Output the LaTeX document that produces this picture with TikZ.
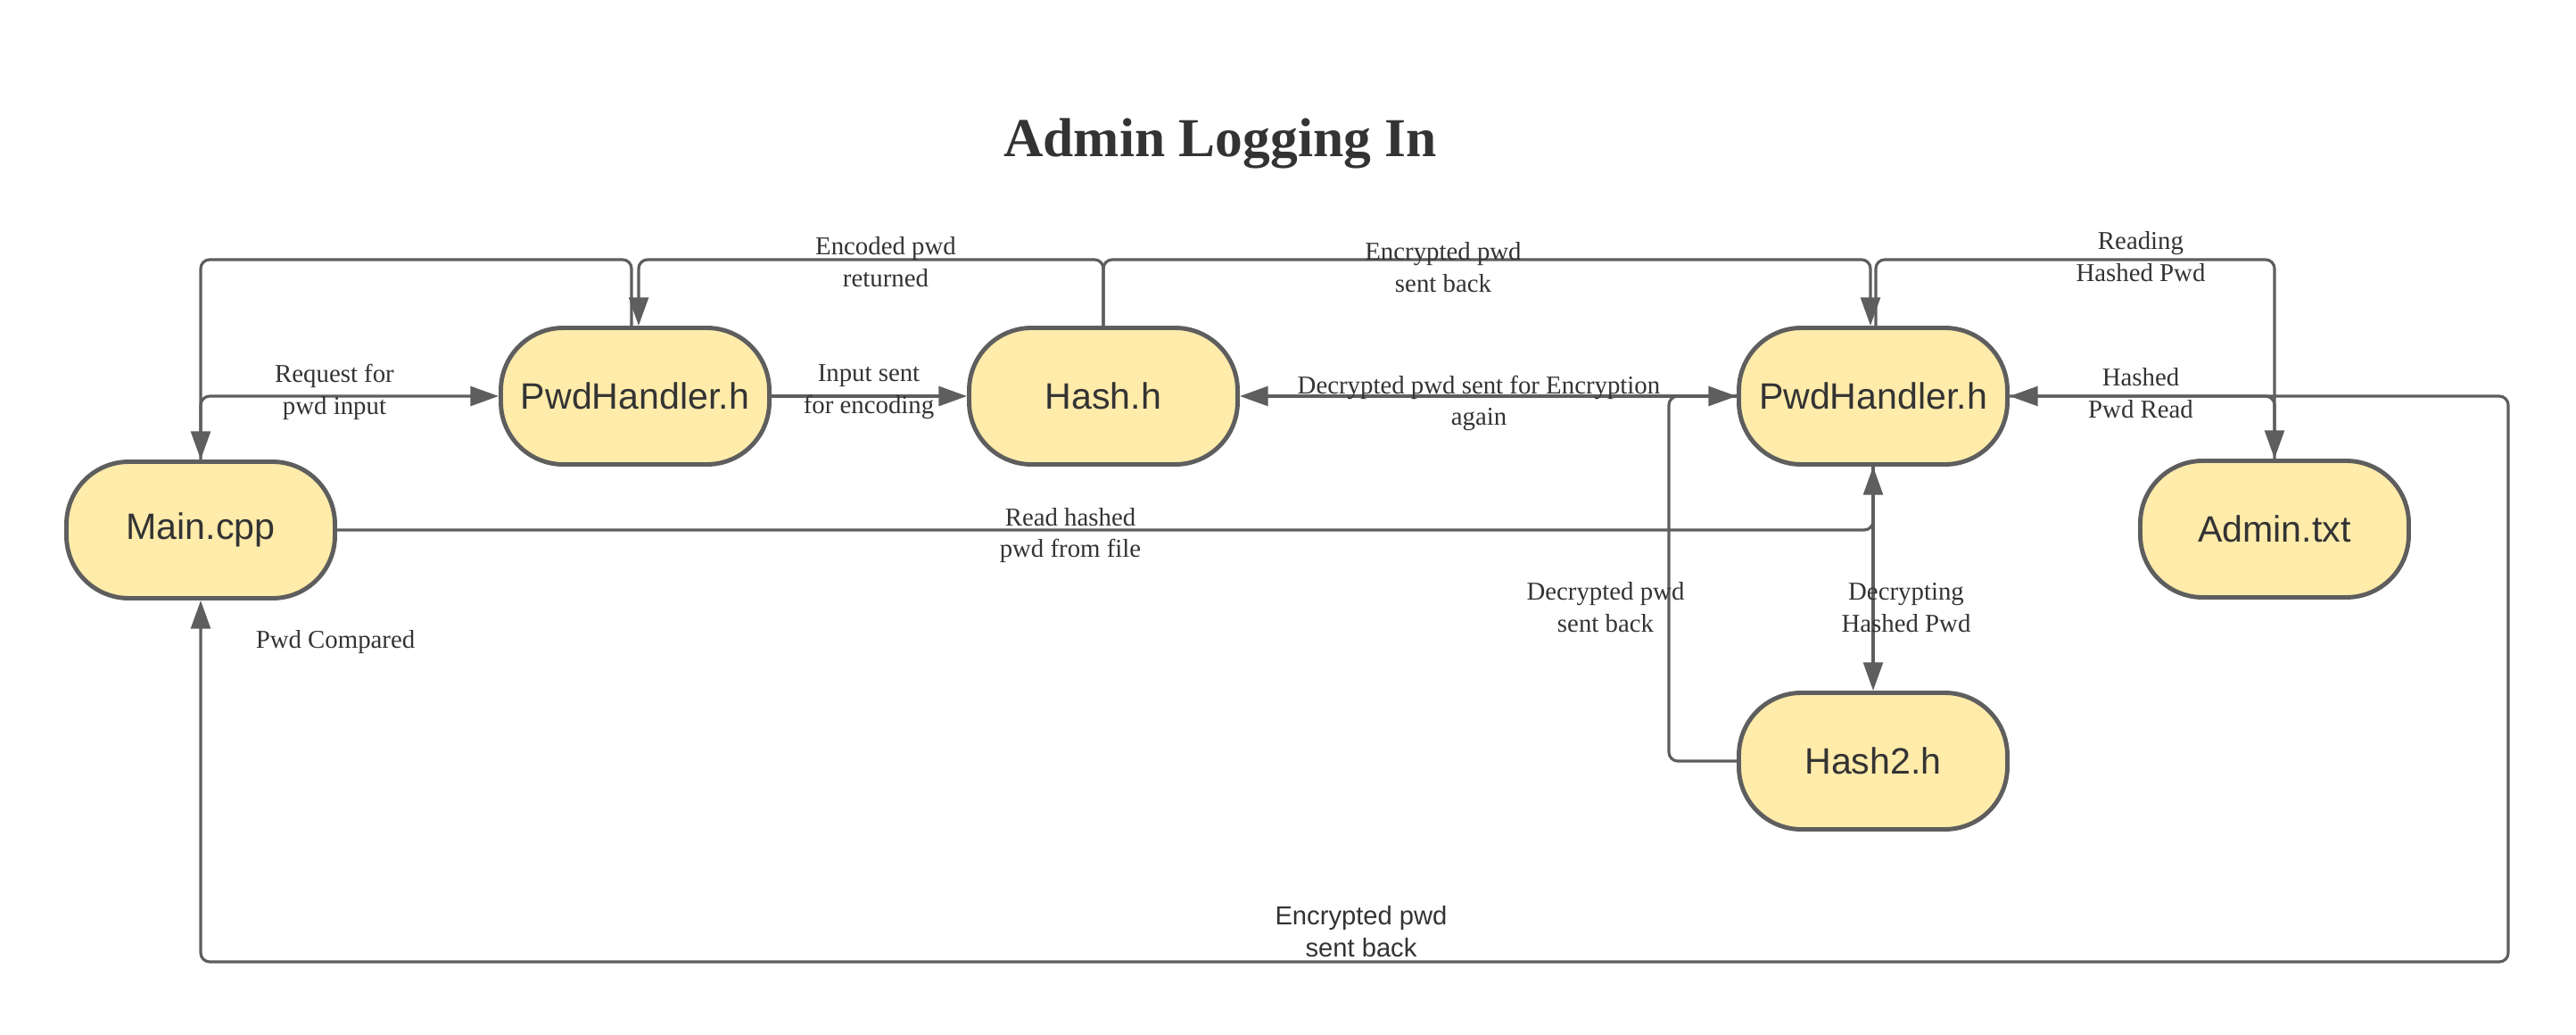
\documentclass[tikz,border=0pt]{standalone}
\usepackage{fontspec}
\setmainfont{Liberation Serif}
\setsansfont{Liberation Sans}
\usetikzlibrary{arrows.meta}
\definecolor{edgegray}{HTML}{5E5E5E}
\definecolor{boxfill}{HTML}{FFEBAA}
\definecolor{txtgray}{HTML}{333333}

\begin{document}
\begin{tikzpicture}[
    file/.style={draw=edgegray,fill=boxfill,line width=1.4pt,rounded corners=0.7cm,
      minimum width=3.01cm,minimum height=1.53cm,text=txtgray,
      font=\sffamily\fontsize{11.7}{14}\selectfont},
    flow/.style={edgegray,line width=0.9pt,rounded corners=1mm,
      -{Triangle[length=9pt,width=6.2pt]}},
    lbl/.style={align=center,text=txtgray,font=\fontsize{8.2}{10.2}\selectfont}
  ]
    \useasboundingbox (0,0) rectangle (28.88,11.59);
    \node[font=\bfseries\fontsize{17.5}{21}\selectfont,text=txtgray] (title) at (13.68,9.98) {Admin Logging In};
    % the files
    \node[file] (main) at (2.25,5.65) {Main.cpp};
    \node[file] (pwd1) at (7.12,7.15) {PwdHandler.h};
    \node[file] (hash) at (12.37,7.15) {Hash.h};
    \node[file] (pwd2) at (21.00,7.15) {PwdHandler.h};
    \node[file] (admin) at (25.50,5.66) {Admin.txt};
    \node[file] (hash2) at (21.00,3.06) {Hash2.h};
    % helper points
    \coordinate (rail) at (0,8.68);
    \coordinate (loopR) at (28.12,0.81);
    \coordinate (loopL) at (18.71,0);
    \coordinate (p1in) at ([xshift=0.4mm]pwd1.north);
    \coordinate (p1out) at ([xshift=-0.4mm]pwd1.north);
    \coordinate (p2in) at ([xshift=-0.3mm]pwd2.north);
    \coordinate (p2out) at ([xshift=0.3mm]pwd2.north);
    % connectors
    \draw[flow] (main.north) |- (pwd1.west);
    \draw[flow] (p1out) |- (main.north |- rail) -- (main.north);
    \draw[flow] (hash.north) |- (p1in |- rail) -- (p1in);
    \draw[flow] (pwd1.east) -- (hash.west);
    \draw[flow] (hash.north) |- (p2in |- rail) -- (p2in);
    \draw[flow] (p2out) |- (admin.north |- rail) -- (admin.north);
    \draw[flow] (admin.north) |- (pwd2.east);
    \draw[flow] (pwd2.east) -| (loopR) -| (main.south);
    \draw[flow] (main.east) -| (pwd2.south);
    \draw[flow] (pwd2.south) -- (hash2.north);
    \draw[flow] (hash2.west) -| (loopL |- pwd2.west) -- (pwd2.west);
    \draw[flow] (pwd2.west) -- (hash.east);
    % labels
    \node[lbl] (reqlbl) at (3.75,7.20) {Request for\\pwd input};
    \node[lbl] (inlbl) at (9.74,7.20) {Input sent\\for encoding};
    \node[lbl] (retlbl) at (9.93,8.65) {Encoded pwd\\returned};
    \node[lbl] (enclbl) at (16.18,8.59) {Encrypted pwd\\sent back};
    \node[lbl] (readlbl) at (24.00,8.71) {Reading\\Hashed Pwd};
    \node[lbl] (againlbl) at (16.58,7.07) {Decrypted pwd sent for Encryption\\again};
    \node[lbl] (hreadlbl) at (24.00,7.18) {Hashed\\Pwd Read};
    \node[lbl] (filelbl) at (12.00,5.59) {Read hashed\\pwd from file};
    \node[lbl] (declbl) at (21.37,4.78) {Decrypting\\Hashed Pwd};
    \node[lbl] (backlbl) at (18.00,4.78) {Decrypted pwd\\sent back};
    \node[lbl] (cmplbl) at (3.76,4.39) {Pwd Compared};
    \node[lbl,font=\sffamily\fontsize{8.3}{10.2}\selectfont] (botlbl) at (15.26,1.15) {Encrypted pwd\\sent back};
\end{tikzpicture}
\end{document}
